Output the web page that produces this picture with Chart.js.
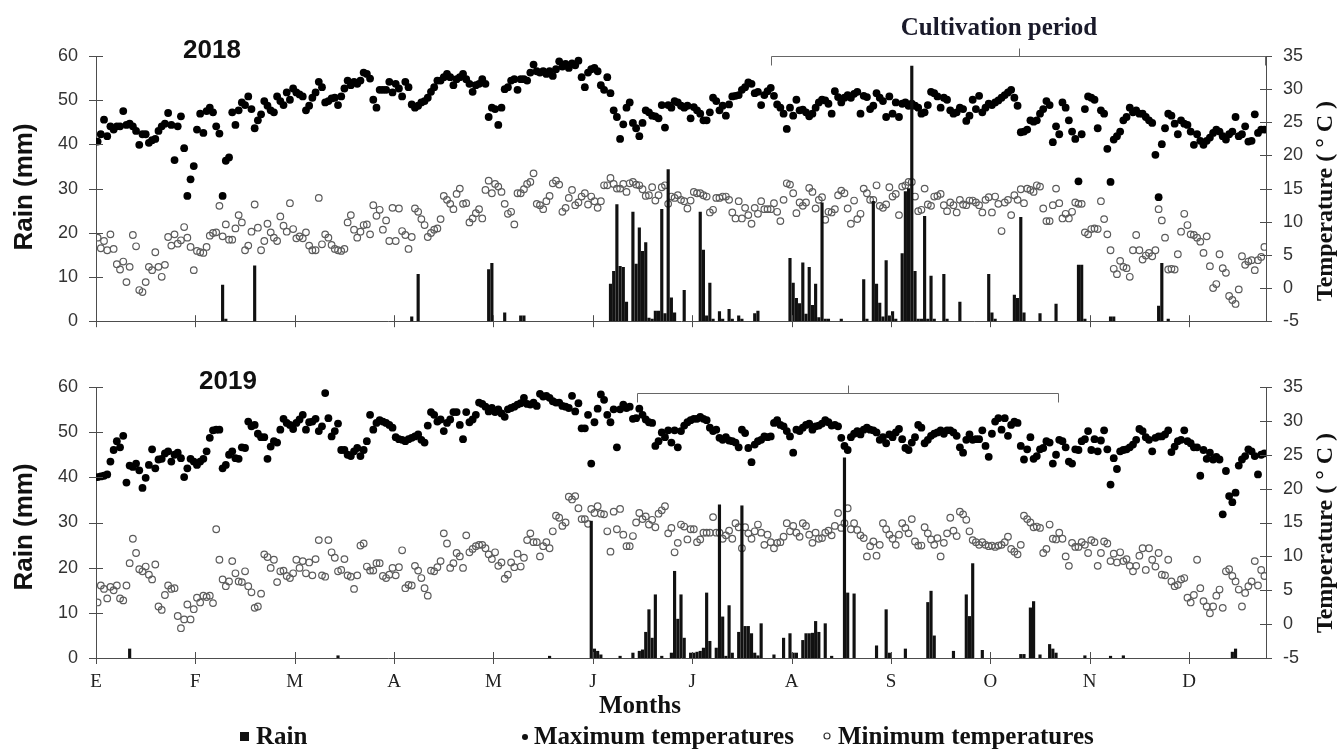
<!DOCTYPE html>
<html>
<head>
<meta charset="utf-8">
<title>Rain and temperatures 2018–2019</title>
<script src="https://cdn.jsdelivr.net/npm/chart.js@4.4.1/dist/chart.umd.min.js"></script>
<style>
  html, body { margin: 0; padding: 0; background: #ffffff; }
  #wrap { position: relative; width: 1339px; height: 749px; overflow: hidden; }
  #c2018 { position: absolute; left: 0; top: 0; }
  #c2019 { position: absolute; left: 0; top: 350px; }
</style>
</head>
<body>
<div id="wrap">
  <canvas id="c2018" width="1339" height="350" style="width:1339px;height:350px"></canvas>
  <canvas id="c2019" width="1339" height="399" style="width:1339px;height:399px"></canvas>
</div>
<script>
// Month axis: one tick every 31 days, Spanish month initials
const monthLabels = ['E', 'F', 'M', 'A', 'M', 'J', 'J', 'A', 'S', 'O', 'N', 'D'];
const monthTickDays = [0, 31, 62, 93, 124, 155, 186, 217, 248, 279, 310, 341];

// ---- 2018: daily maximum / minimum temperature (°C), day 0 = 1 January
const maxTemp2018 = [
  22.1,23.2,25.4,22.9,24.4,23.9,24.4,24.4,26.7,24.6,
  24.8,24.4,23.7,21.6,23.2,23.2,21.9,22.3,22.5,23.7,
  24.4,24.8,26.4,24.6,19.3,24.4,25.9,21.1,13.9,16.4,
  18.4,23.9,26.3,23.4,26.7,27.2,26.5,24.4,23.3,13.9,
  19.2,19.7,26.5,24.6,26.8,28.0,27.6,28.9,27.0,24.1,
  25.3,26.2,28.2,27.5,26.8,26.5,28.9,28.2,27.6,29.5,
  28.4,30.1,29.5,29.2,28.9,26.8,27.5,28.7,29.5,31.1,
  30.3,28.0,28.2,28.6,28.7,27.6,28.9,30.1,31.3,30.6,
  31.1,30.8,31.3,32.5,32.3,31.6,28.4,27.2,29.9,29.9,
  29.9,31.1,29.5,30.8,30.1,28.9,31.1,30.3,27.7,27.2,
  27.5,28.0,28.2,28.7,29.6,30.3,31.3,31.3,31.8,32.3,
  31.8,30.6,31.5,31.8,32.3,31.5,30.8,29.6,30.6,30.8,
  31.5,30.8,25.8,27.2,27.0,24.6,27.2,30.0,30.3,31.3,
  31.5,29.9,31.5,31.5,31.3,32.5,33.7,32.7,32.5,32.7,
  32.3,32.7,32.0,33.0,34.2,33.4,33.8,33.2,33.9,33.6,
  34.3,31.8,30.3,32.5,33.0,33.2,32.7,30.6,29.9,31.8,
  29.4,26.8,25.8,22.5,24.7,27.2,28.0,24.9,24.1,22.9,
  24.9,26.8,26.5,26.0,25.9,25.6,27.6,24.2,27.6,27.2,
  28.2,28.0,27.5,27.2,27.5,25.6,27.3,26.8,26.3,25.3,
  25.3,26.5,28.7,28.2,26.8,27.5,26.0,27.7,28.9,29.0,
  29.1,29.9,30.3,31.0,30.8,29.4,29.6,27.6,29.1,29.7,
  30.2,29.0,27.7,27.2,26.3,24.0,27.2,26.0,28.4,26.8,
  26.9,26.5,25.9,26.3,27.2,28.0,28.4,28.3,27.8,26.3,
  29.7,28.8,28.0,28.7,29.1,28.7,29.3,29.6,26.3,29.0,
  28.8,27.0,27.5,29.4,28.7,28.2,25.8,28.9,26.3,28.0,
  25.8,27.8,28.0,27.5,27.8,27.5,27.2,26.3,26.5,27.6,
  29.6,29.4,28.9,27.2,28.7,28.4,26.8,26.3,26.5,27.2,
  27.0,25.2,26.0,28.4,27.0,29.0,26.5,27.2,27.8,27.6,
  28.0,28.3,28.7,29.1,29.5,29.9,28.7,27.5,23.5,23.6,
  23.9,25.3,25.1,25.3,26.3,27.0,28.2,27.6,22.0,24.4,
  23.2,28.0,27.2,25.3,23.6,22.5,16.1,23.2,27.0,28.9,
  28.7,28.4,24.1,26.8,26.3,21.0,16.0,22.4,22.9,23.6,
  25.3,25.8,27.2,26.5,26.8,26.3,26.3,25.8,25.3,24.9,
  20.1,13.7,21.7,24.1,26.3,26.0,24.8,23.2,25.3,24.8,
  24.6,23.6,21.6,23.2,22.2,21.6,22.2,22.7,23.4,23.9,
  23.6,22.9,22.4,23.2,23.6,25.8,22.9,23.2,24.4,22.1,
  22.2,26.2,23.4,23.9,23.9
];
const minTemp2018 = [
  7.6,6.0,7.1,5.7,8.1,5.9,3.6,2.8,4.0,0.9,
  3.2,8.0,6.3,-0.3,-0.6,0.9,3.2,2.7,5.4,3.2,
  1.7,3.5,7.7,6.4,8.1,6.7,7.2,9.2,7.6,6.2,
  2.7,5.6,5.4,5.3,6.2,7.9,8.3,8.4,12.4,7.8,
  9.6,7.3,7.3,9.0,11.0,9.9,5.7,6.4,8.5,12.6,
  9.1,5.7,7.1,9.7,8.4,7.6,7.1,10.8,9.4,8.5,
  12.8,8.9,7.5,7.8,7.5,8.4,6.4,5.7,5.7,13.6,
  6.6,8.1,7.6,6.5,5.9,5.7,5.6,5.9,9.9,11.0,
  8.8,7.6,8.5,9.5,9.6,8.1,12.5,10.9,11.8,8.8,
  10.2,7.1,12.1,7.1,12.0,8.6,8.0,5.9,7.7,12.0,
  11.5,10.4,9.5,7.7,8.3,8.8,9.0,10.4,13.9,13.3,
  12.7,11.9,14.2,15.0,12.7,12.8,9.9,10.5,11.3,11.9,
  10.5,14.8,16.2,14.3,15.7,15.3,14.5,12.7,11.2,11.5,
  9.6,14.3,14.3,14.9,15.7,16.0,17.3,12.7,12.5,11.9,
  13.1,13.9,15.8,16.2,15.6,11.5,12.1,13.6,14.8,12.5,
  12.9,13.8,14.3,12.6,13.8,13.1,12.1,13.1,15.5,15.5,
  16.6,15.7,15.0,15.0,15.7,14.5,15.8,16.0,15.6,15.5,
  14.9,13.9,14.0,15.2,13.2,14.0,15.2,15.5,12.7,13.8,
  13.6,14.0,13.3,13.1,12.0,13.2,14.5,14.3,14.3,14.0,
  13.8,11.4,11.8,13.6,13.6,13.8,13.8,13.3,11.4,10.5,
  13.1,10.5,12.1,11.0,9.7,12.1,11.2,13.1,11.9,11.9,
  11.9,12.8,11.5,10.1,13.3,15.8,15.6,14.3,11.3,12.9,
  12.4,12.9,15.1,14.5,12.0,13.3,13.7,10.3,11.5,11.4,
  11.9,14.0,14.7,14.3,12.0,9.7,13.2,10.4,11.2,15.0,
  14.3,13.3,13.3,15.5,12.4,12.1,12.6,15.2,13.8,14.2,
  11.0,15.3,15.5,16.0,16.0,13.8,11.6,11.8,15.0,12.6,
  12.4,13.8,13.9,14.2,12.5,11.6,12.9,12.5,11.4,13.3,
  12.6,12.5,13.2,13.2,12.9,12.5,11.4,13.3,13.7,11.4,
  13.8,12.7,8.6,12.9,13.3,11.0,14.0,13.3,14.9,12.8,
  15.0,14.8,14.5,15.5,15.3,12.0,10.1,10.1,12.5,15.0,
  12.8,10.5,11.2,10.5,11.5,12.9,12.7,12.7,8.4,8.1,
  8.9,9.0,8.9,13.1,10.4,8.1,5.7,2.9,2.1,4.1,
  3.2,3.0,1.7,5.7,8.0,5.7,4.3,4.9,5.3,4.8,
  5.7,11.9,10.2,7.6,2.8,2.9,2.8,5.1,8.5,11.2,
  9.5,8.1,8.0,7.6,7.0,5.3,7.8,3.3,0.0,0.6,
  5.1,3.0,2.3,-1.2,-1.8,-2.4,-0.2,4.8,3.5,4.0,
  4.2,2.7,4.2,4.7,6.2
];
// 2018 rain: day of year and amount (mm) for every rainy day
const rainDay2018 = [
  39,40,49,98,100,122,123,127,132,133,
  160,161,162,163,164,165,167,168,169,170,171,172,173,174,175,176,177,178,179,180,183,
  188,189,190,191,192,194,195,197,198,200,201,205,206,
  216,217,218,219,220,221,222,223,224,225,226,227,228,232,
  239,240,242,243,244,245,246,247,248,249,251,252,253,254,255,256,257,258,259,260,261,264,265,269,
  278,279,280,286,287,288,289,294,299,306,307,308,316,317,331,332,334
];
const rainMm2018 = [
  8.2,0.5,12.5,1.0,10.6,11.7,13.1,1.9,1.2,1.2,
  8.4,11.3,26.4,12.4,12.2,4.3,24.7,12.9,21.1,15.8,17.8,0.7,0.5,2.3,2.3,25.3,1.7,34.3,5.3,1.9,7.0,
  24.7,16.1,1.2,8.6,0.5,2.2,0.5,2.7,0.5,1.2,0.5,1.7,2.3,
  14.2,8.6,5.2,4.0,13.2,1.6,12.2,3.6,8.4,0.8,26.8,0.5,0.5,0.5,
  9.4,0.5,27.1,8.4,4.1,1.0,13.7,1.2,2.2,0.5,15.3,29.3,30.0,57.7,11.3,0.5,0.5,23.7,0.5,10.2,0.5,10.6,0.5,4.3,
  10.6,1.9,0.5,5.9,5.2,23.5,1.9,1.7,3.9,12.7,12.7,0.5,1.0,1.0,3.4,13.1,0.5
];

// ---- 2019
const maxTemp2019 = [
  21.7,21.8,21.9,22.1,24.0,25.7,27.0,26.1,27.8,20.9,
  23.4,23.2,23.7,22.7,20.1,21.6,23.5,25.8,23.0,24.3,
  24.4,25.2,25.5,24.0,25.0,25.3,24.5,21.7,23.0,24.4,
  24.0,23.5,24.0,24.4,25.5,27.5,28.6,28.7,28.7,23.0,
  23.5,25.0,25.5,24.5,24.4,26.1,26.0,29.9,29.2,29.4,
  28.1,27.6,27.6,24.4,26.2,27.0,26.8,28.7,30.3,29.7,
  29.4,28.8,29.7,30.2,30.9,28.7,29.8,29.9,30.3,28.5,
  29.2,34.1,30.4,27.7,28.5,29.6,25.7,25.7,25.0,24.8,
  25.5,26.0,24.8,25.7,27.0,30.9,28.7,29.7,30.1,29.9,
  29.7,29.4,29.0,27.6,27.3,27.2,27.0,27.3,27.5,27.7,
  28.0,27.2,26.8,29.3,31.3,30.9,29.9,30.2,28.5,29.7,
  30.2,31.3,31.3,29.4,27.3,31.3,29.8,30.2,30.9,32.7,
  32.5,32.1,31.4,31.9,31.3,31.7,31.1,30.6,31.7,31.9,
  32.1,32.4,32.6,33.4,32.5,32.4,32.7,32.2,34.0,33.6,
  33.7,33.4,32.9,32.7,32.7,32.2,32.1,31.9,33.7,31.4,
  32.6,28.9,28.9,30.9,23.7,29.8,31.8,33.9,33.1,30.9,
  29.8,31.7,26.1,31.7,32.4,31.9,32.1,30.3,30.4,31.8,
  30.9,30.2,29.8,29.7,26.3,27.0,28.3,27.6,28.6,26.8,
  28.6,26.1,28.5,29.3,29.8,30.1,30.3,30.3,30.6,30.3,
  30.1,29.0,28.5,28.7,27.5,27.2,27.6,27.1,27.0,26.8,
  26.1,28.7,28.2,26.0,23.9,26.5,27.0,27.2,27.7,27.6,
  27.7,29.7,30.1,29.4,29.2,28.5,27.7,25.3,28.7,28.5,
  29.0,29.4,29.6,28.7,29.2,29.3,29.6,30.1,29.8,29.3,
  29.4,29.2,27.5,26.3,25.7,27.6,28.1,28.5,28.0,28.7,
  29.0,28.7,28.6,28.3,27.2,27.6,26.7,28.0,27.6,28.3,
  28.8,27.3,26.0,25.7,26.8,27.6,29.4,29.0,26.7,27.2,
  27.8,28.1,28.3,28.6,28.1,28.6,28.6,28.3,27.8,26.1,
  25.3,27.2,28.0,27.2,27.3,27.3,28.6,26.3,24.7,28.1,
  29.9,30.4,28.7,30.4,27.8,29.4,29.9,29.7,26.3,24.3,
  25.8,27.6,24.4,24.8,25.8,26.0,27.0,26.8,23.7,25.0,
  27.2,27.0,26.1,24.0,23.7,25.8,25.7,27.0,27.3,28.5,
  25.7,27.3,25.5,27.1,28.6,25.8,20.6,24.5,22.9,25.5,
  25.7,25.8,26.1,26.5,27.2,28.8,28.5,27.6,27.2,25.5,
  27.5,27.7,27.7,28.0,28.6,25.4,26.2,27.0,27.2,28.6,
  27.0,26.7,26.1,26.1,21.9,25.7,24.4,25.3,24.3,24.7,
  24.3,16.2,22.6,18.9,18.0,19.4,23.4,24.3,24.8,25.8,
  25.5,24.8,22.1,25.0,25.2
];
const minTemp2019 = [
  3.2,5.7,5.2,3.8,5.5,5.0,5.7,3.8,3.5,5.7,
  9.0,12.6,10.5,8.1,7.8,8.5,7.3,6.6,8.8,2.6,
  2.1,4.3,5.7,5.2,5.3,1.2,-0.6,0.7,2.9,0.7,
  2.2,3.9,3.2,4.2,4.0,4.2,3.1,14.0,9.5,6.6,
  5.6,6.3,9.3,7.5,6.3,6.2,7.8,5.6,4.7,2.4,
  2.6,4.5,10.3,9.9,8.3,9.5,6.2,7.8,7.9,7.1,
  6.8,7.5,9.5,8.3,9.3,7.5,9.1,7.2,9.6,12.4,
  7.2,7.0,12.4,10.6,9.8,7.8,8.0,9.6,7.2,7.0,
  5.2,7.2,11.6,11.9,8.5,7.9,7.9,9.0,9.0,7.1,
  6.8,7.3,8.3,7.2,8.4,10.9,5.3,5.8,5.7,8.6,
  7.9,6.8,5.3,4.2,7.9,7.8,8.4,9.3,13.4,11.9,
  8.3,9.0,10.5,10.0,8.3,13.1,10.6,11.1,11.5,11.7,
  11.7,11.2,10.3,9.6,10.6,8.6,9.1,6.7,7.3,9.1,
  8.4,10.4,8.5,9.8,12.4,13.4,12.1,12.1,10.0,11.5,
  12.1,11.2,13.7,16.0,15.7,14.5,15.0,18.8,18.4,18.9,
  17.1,15.5,15.5,14.8,17.0,16.4,17.4,16.3,16.2,13.7,
  10.7,16.6,14.0,17.0,13.2,11.5,11.5,13.0,15.0,16.4,
  15.5,15.9,14.7,15.4,14.3,16.3,16.8,17.4,13.4,14.2,
  10.6,12.0,14.7,14.4,12.5,14.0,14.0,12.1,12.5,13.5,
  13.5,13.5,15.8,13.5,13.5,12.6,13.1,13.8,12.6,14.9,
  14.3,11.2,14.3,13.4,12.6,13.7,14.7,13.5,11.7,13.2,
  12.1,11.2,12.0,12.1,12.9,14.9,13.7,14.5,13.5,12.9,
  14.9,14.5,13.2,12.0,13.5,12.6,12.7,13.5,13.8,13.1,
  14.5,16.4,14.2,14.9,17.1,14.0,14.9,13.9,13.1,12.7,
  10.0,11.5,12.2,10.1,11.7,14.9,14.0,13.2,12.6,11.7,
  13.2,14.9,14.2,13.4,15.5,12.2,11.6,11.6,14.3,13.4,
  12.5,11.7,12.7,10.0,12.0,13.4,15.7,13.8,13.0,16.6,
  16.2,15.4,13.7,12.4,12.1,11.7,12.1,11.7,11.5,11.6,
  11.4,11.6,11.7,12.1,12.9,11.1,10.7,10.3,11.7,16.0,
  15.5,15.0,14.3,14.4,14.2,10.5,11.1,14.7,12.6,12.5,
  13.5,12.6,10.0,8.6,12.0,11.4,11.4,12.1,11.7,10.5,
  12.4,12.1,8.6,10.5,12.2,11.9,9.3,10.4,9.1,10.6,
  9.3,9.6,8.6,7.8,8.6,10.1,11.2,8.0,11.2,9.5,
  8.5,10.5,7.3,7.2,9.5,6.3,5.6,5.8,6.6,6.8,
  3.9,3.2,4.3,9.5,5.3,3.4,2.6,1.6,2.6,4.2,
  5.1,2.4,7.8,8.1,7.1,6.3,5.1,2.6,4.6,5.6,
  6.3,9.3,5.7,8.0,7.1
];
const rainDay2019 = [
  10,75,141,154,155,156,157,163,167,169,170,171,172,173,174,176,179,180,181,182,183,
  185,186,187,188,189,190,191,193,194,195,196,197,198,200,201,202,203,204,205,206,207,
  211,214,216,217,218,220,221,222,223,224,225,227,229,233,234,236,243,246,247,252,
  259,260,261,267,271,272,273,276,288,289,291,292,294,297,298,299,308,316,320,354,355
];
const rainMm2019 = [
  2.0,0.5,0.4,30.3,2.0,1.5,0.7,0.4,1.1,1.5,1.8,5.7,10.7,4.4,14.0,0.4,1.1,19.2,8.6,14.0,4.4,
  1.1,1.1,1.3,1.5,2.2,14.4,3.7,2.2,33.9,9.1,0.4,11.6,1.1,5.7,33.7,7.0,7.0,5.4,1.1,0.5,7.6,
  0.7,4.4,5.4,1.1,1.1,3.9,5.4,5.4,5.5,8.1,5.7,7.6,0.4,44.3,14.4,14.2,2.7,10.7,1.1,2.0,
  12.3,14.8,4.9,1.5,14.0,9.2,20.9,1.7,0.8,0.8,11.1,12.5,0.7,3.0,2.0,1.1,0.5,0.4,0.5,1.3,2.0
];

// Cultivation period brackets (day of year)
const cultivation2018 = [210.6, 365];
const cultivation2019 = [168.8, 300.5];

// ---------------------------------------------------------------------------
const INK = '#111111';
const AXIS = '#4d4d4d';
const SANS = "'Liberation Sans', Arial, sans-serif";
const SERIF = "'Liberation Serif', 'Times New Roman', serif";

function daily(values) { return values.map((v, i) => ({ x: i + 0.5, y: v })); }
function rainBars(days, mm) { return days.map((d, i) => ({ x: d + 0.5, y: mm[i] })); }

function rotatedText(ctx, text, x, y, font) {
  ctx.save();
  ctx.translate(x, y);
  ctx.rotate(-Math.PI / 2);
  ctx.font = font;
  ctx.fillStyle = INK;
  ctx.textAlign = 'center';
  ctx.textBaseline = 'middle';
  ctx.fillText(text, 0, 0);
  ctx.restore();
}

// Crossing tick marks, the cultivation bracket and all free text
const panelDecor = {
  id: 'panelDecor',
  afterDatasetsDraw(chart, args, o) {
    const { ctx, chartArea: a, scales: { x, y, y2 } } = chart;
    ctx.save();
    ctx.strokeStyle = AXIS;
    ctx.lineWidth = 1;
    ctx.beginPath();
    monthTickDays.forEach(v => {
      const px = Math.round(x.getPixelForValue(v)) + 0.5;
      ctx.moveTo(px, a.bottom - 6); ctx.lineTo(px, a.bottom + 6);
    });
    y.ticks.forEach(t => {
      const py = Math.round(y.getPixelForValue(t.value)) + 0.5;
      ctx.moveTo(a.left - 7, py); ctx.lineTo(a.left + 7, py);
    });
    y2.ticks.forEach(t => {
      const py = Math.round(y2.getPixelForValue(t.value)) + 0.5;
      ctx.moveTo(a.right - 6, py); ctx.lineTo(a.right + 6, py);
    });
    ctx.stroke();

    // bracket over the cultivation period
    const b = o.bracket;
    const x0 = Math.round(x.getPixelForValue(b.span[0])) + 0.5;
    const x1 = Math.round(x.getPixelForValue(b.span[1])) - 0.5;
    const xm = Math.round((x0 + x1) / 2) + 0.5;
    const yb = Math.round(a.top + b.dy) + 0.5;
    ctx.strokeStyle = '#666666';
    ctx.beginPath();
    ctx.moveTo(x0, yb + 9); ctx.lineTo(x0, yb); ctx.lineTo(x1, yb); ctx.lineTo(x1, yb + 9);
    ctx.moveTo(xm, yb); ctx.lineTo(xm, yb - 8);
    ctx.stroke();
    ctx.restore();
  },
  afterDraw(chart, args, o) {
    const { ctx } = chart;
    ctx.save();
    ctx.fillStyle = INK;
    ctx.textBaseline = 'middle';
    ctx.textAlign = 'center';
    ctx.font = 'bold 26px ' + SANS;
    ctx.fillText(o.year.text, o.year.x, o.year.y);
    if (o.caption) {
      ctx.font = 'bold 25px ' + SERIF;
      ctx.fillStyle = '#1a1a2a';
      ctx.fillText(o.caption.text, o.caption.x, o.caption.y);
    }
    ctx.restore();

    rotatedText(ctx, 'Rain (mm)', 25, o.leftTitleY, 'bold 26px ' + SANS);
    rotatedText(ctx, 'Temperature ( \u00b0 C )', 1326, o.rightTitleY, 'bold 24px ' + SERIF);

    if (o.footer) {
      const f = o.footer;
      ctx.save();
      ctx.fillStyle = INK;
      ctx.font = 'bold 25px ' + SERIF;
      ctx.textBaseline = 'middle';
      ctx.textAlign = 'center';
      ctx.fillText('Months', f.monthsX, f.monthsY);
      ctx.textAlign = 'left';
      const ly = f.legendY;
      // Rain: filled square
      ctx.fillRect(240, ly - 5, 9, 9);
      ctx.fillText('Rain', 256, ly + 1);
      // Maximum temperatures: small filled dot
      ctx.beginPath(); ctx.arc(525, ly, 3, 0, Math.PI * 2); ctx.fill();
      ctx.fillText('Maximum temperatures', 534, ly + 1);
      // Minimum temperatures: small open circle
      ctx.strokeStyle = '#333333'; ctx.lineWidth = 1.2;
      ctx.beginPath(); ctx.arc(827, ly - 1, 3, 0, Math.PI * 2); ctx.stroke();
      ctx.fillText('Minimum temperatures', 838, ly + 1);
      ctx.restore();
    }
  }
};

function makePanel(canvasId, p) {
  return new Chart(document.getElementById(canvasId), {
    type: 'scatter',
    data: {
      datasets: [
        {
          type: 'bar', label: 'Rain', yAxisID: 'y',
          data: rainBars(p.rainDay, p.rainMm),
          backgroundColor: '#111111', borderWidth: 0,
          barThickness: 2.5, order: 0
        },
        {
          type: 'scatter', label: 'Maximum temperatures', yAxisID: 'y2',
          data: daily(p.maxTemp),
          pointRadius: 3.9, pointBackgroundColor: '#000000',
          pointBorderColor: '#000000', pointBorderWidth: 0, order: 2
        },
        {
          type: 'scatter', label: 'Minimum temperatures', yAxisID: 'y2',
          data: daily(p.minTemp),
          pointRadius: 3.3, pointBackgroundColor: 'rgba(255,255,255,0)',
          pointBorderColor: '#5c5c5c', pointBorderWidth: 1.2, order: 1
        }
      ]
    },
    options: {
      responsive: false,
      animation: false,
      events: [],
      layout: { padding: { top: p.padTop, left: 0, right: 0, bottom: 0 } },
      plugins: {
        legend: { display: false },
        tooltip: { enabled: false },
        panelDecor: p.decor
      },
      scales: {
        x: {
          type: 'linear', min: 0, max: 365, offset: false,
          afterBuildTicks: s => { s.ticks = monthTickDays.map(v => ({ value: v })); },
          afterFit: s => { s.height = p.xHeight; },
          grid: { display: false, drawTicks: false, offset: false },
          border: { display: true, color: AXIS, width: 1 },
          ticks: {
            display: p.showMonths, autoSkip: false, maxRotation: 0, padding: 13,
            color: '#222222', font: { family: SERIF, size: 19 },
            callback: (v, i) => monthLabels[i]
          }
        },
        y: {
          position: 'left', min: 0, max: 60,
          afterFit: s => { s.width = 96; },
          grid: { display: false, drawTicks: false },
          border: { display: true, color: AXIS, width: 1 },
          ticks: { stepSize: 10, padding: 18, color: '#333333', font: { family: SANS, size: 18 } }
        },
        y2: {
          position: 'right', min: -5, max: 35,
          afterFit: s => { s.width = 73; },
          grid: { display: false, drawTicks: false },
          border: { display: true, color: AXIS, width: 1 },
          ticks: { stepSize: 5, padding: 17, color: '#333333', font: { family: SANS, size: 18 } }
        }
      }
    },
    plugins: [panelDecor]
  });
}

makePanel('c2018', {
  rainDay: rainDay2018, rainMm: rainMm2018,
  maxTemp: maxTemp2018, minTemp: minTemp2018,
  padTop: 56, xHeight: 16, showMonths: false,
  decor: {
    bracket: { span: cultivation2018, dy: 0 },
    year: { text: '2018', x: 212, y: 51 },
    caption: { text: 'Cultivation period', x: 999, y: 29 },
    leftTitleY: 187, rightTitleY: 201
  }
});

makePanel('c2019', {
  rainDay: rainDay2019, rainMm: rainMm2019,
  maxTemp: maxTemp2019, minTemp: minTemp2019,
  padTop: 37, xHeight: 91, showMonths: true,
  decor: {
    bracket: { span: cultivation2019, dy: 6 },
    year: { text: '2019', x: 228, y: 32 },
    leftTitleY: 177, rightTitleY: 183,
    footer: { monthsX: 640, monthsY: 357, legendY: 387 }
  }
});
</script>
</body>
</html>
